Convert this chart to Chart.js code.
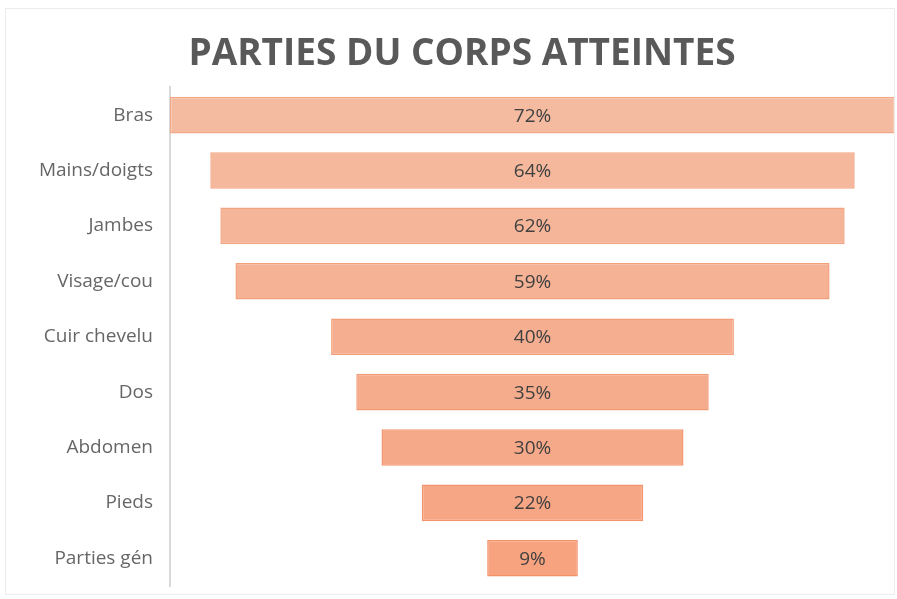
<!DOCTYPE html>
<html>
<head>
<meta charset="utf-8">
<script src="https://cdn.jsdelivr.net/npm/chart.js@4.4.1/dist/chart.umd.min.js"></script>
<style>
  html, body { margin: 0; padding: 0; background: #fff; }
  #wrap { position: relative; width: 897px; height: 599px; }
  #frame { position: absolute; left: 5px; top: 8px; width: 890px; height: 587px; border: 1px solid #ECECEC; box-sizing: border-box; pointer-events: none; }
  canvas { position: absolute; left: 0; top: 0; }
</style>
</head>
<body>
<div id="wrap">
  <canvas id="c" width="897" height="599"></canvas>
  <div id="frame"></div>
</div>
<script>
const titleText = 'PARTIES DU CORPS ATTEINTES';
const categories = ['Bras', 'Mains/doigts', 'Jambes', 'Visage/cou', 'Cuir chevelu', 'Dos', 'Abdomen', 'Pieds', 'Parties gén'];
const percentages = [72, 64, 62, 59, 40, 35, 30, 22, 9];
const barColors = ['#F5BBA1', '#F5B89C', '#F5B598', '#F5B294', '#F5AF90', '#F5AC8C', '#F6A988', '#F6A684', '#F7A37F'];
const borderColors = ['#F2A988', '#F2A684', '#F2A380', '#F2A07C', '#F29D78', '#F29A74', '#F39770', '#F3946C', '#F39168'];

const ranges = percentages.map(v => [-v / 2, v / 2]);

const valueLabels = {
  id: 'valueLabels',
  afterDatasetsDraw(chart) {
    const ctx = chart.ctx;
    const meta = chart.getDatasetMeta(0);
    ctx.save();
    ctx.font = '19px "Open Sans", sans-serif';
    ctx.fillStyle = '#404040';
    ctx.textAlign = 'center';
    ctx.textBaseline = 'middle';
    meta.data.forEach((bar, i) => {
      const cx = (bar.x + bar.base) / 2;
      ctx.fillText(percentages[i] + '%', cx, bar.y + 1);
    });
    ctx.restore();
  }
};

new Chart(document.getElementById('c'), {
  type: 'bar',
  data: {
    labels: categories,
    datasets: [{
      data: ranges,
      backgroundColor: barColors,
      borderColor: borderColors,
      borderWidth: 1.5,
      borderSkipped: false,
      barPercentage: 0.66,
      categoryPercentage: 1
    }]
  },
  options: {
    indexAxis: 'y',
    responsive: false,
    animation: false,
    layout: { padding: { left: 29, right: 2, top: 0, bottom: 13 } },
    plugins: {
      legend: { display: false },
      tooltip: { enabled: false },
      title: {
        display: true,
        text: titleText,
        color: '#595959',
        font: { family: '"Open Sans", sans-serif', size: 37, weight: 'bold' },
        padding: { top: 32, bottom: 11 }
      }
    },
    scales: {
      x: { display: false, min: -36, max: 36 },
      y: {
        afterFit(scale) {
          scale.width = 141;
          scale.paddingTop = 0;
          scale.paddingBottom = 0;
        },
        grid: { display: false, drawTicks: false },
        border: { display: true, color: '#D9D9D9', width: 2 },
        ticks: {
          color: '#666666',
          font: { family: '"Open Sans", sans-serif', size: 19 },
          padding: 17,
          crossAlign: 'near'
        }
      }
    }
  },
  plugins: [valueLabels]
});
</script>
</body>
</html>
